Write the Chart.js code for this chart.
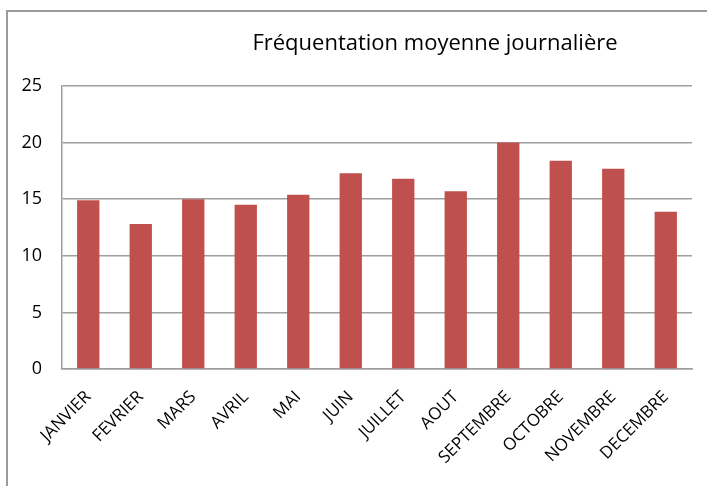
<!DOCTYPE html>
<html lang="fr">
<head>
    <meta charset="UTF-8">
    <title>Fréquentation moyenne journalière</title>
    <script src="https://cdn.jsdelivr.net/npm/chart.js"></script>
    <style>
        html, body { margin: 0; padding: 0; background: #fff; overflow: hidden; }
        .cadre { position: absolute; left: 6px; top: 10px; width: 720px; height: 500px; border: 2px solid #9a9a9a; }
        #chart { position: absolute; left: 0; top: 0; }
    </style>
</head>
<body>
    <div class="cadre"></div>
    <canvas id="chart" width="707" height="486"></canvas>

    <script>
        // données
        const mois = ['JANVIER', 'FEVRIER', 'MARS', 'AVRIL', 'MAI', 'JUIN', 'JUILLET', 'AOUT', 'SEPTEMBRE', 'OCTOBRE', 'NOVEMBRE', 'DECEMBRE'];
        const frequentation = [14.9, 12.8, 15.0, 14.5, 15.4, 17.3, 16.8, 15.7, 20.0, 18.4, 17.7, 13.9];
        const titre = 'Fréquentation moyenne journalière';

        // titre dessiné à droite du centre comme dans Excel
        const titrePlugin = {
            id: 'titre',
            afterDraw(chart) {
                const ctx = chart.ctx;
                ctx.save();
                ctx.font = '22px "Open Sans"';
                ctx.fillStyle = '#000';
                ctx.textAlign = 'center';
                ctx.textBaseline = 'middle';
                ctx.fillText(titre, 435, 44);
                ctx.restore();
            }
        };

        const ctx = document.getElementById('chart').getContext('2d');
        new Chart(ctx, {
            type: 'bar',
            data: {
                labels: mois,
                datasets: [{
                    data: frequentation,
                    backgroundColor: '#C0504D',
                    borderWidth: 0,
                    barPercentage: 0.425,
                    categoryPercentage: 1
                }]
            },
            options: {
                responsive: false,
                animation: false,
                layout: { padding: { top: 86, right: 15, left: 0, bottom: 0 } },
                plugins: {
                    legend: { display: false },
                    tooltip: { enabled: false }
                },
                scales: {
                    x: {
                        grid: { display: false },
                        border: { display: true, color: '#9e9e9e', width: 1.5 },
                        ticks: {
                            color: '#000',
                            font: { family: 'Open Sans', size: 17 },
                            minRotation: 45,
                            maxRotation: 45,
                            padding: 10
                        },
                        afterFit(scale) { scale.height = 117; }
                    },
                    y: {
                        min: 0,
                        max: 25,
                        ticks: {
                            stepSize: 5,
                            color: '#000',
                            font: { family: 'Open Sans', size: 18 },
                            padding: 20
                        },
                        grid: { color: '#9e9e9e', lineWidth: 1.5, drawTicks: false },
                        border: { display: true, color: '#9e9e9e', width: 1.5 },
                        afterFit(scale) { scale.width = 62; }
                    }
                }
            },
            plugins: [titrePlugin]
        });
    </script>
</body>
</html>
